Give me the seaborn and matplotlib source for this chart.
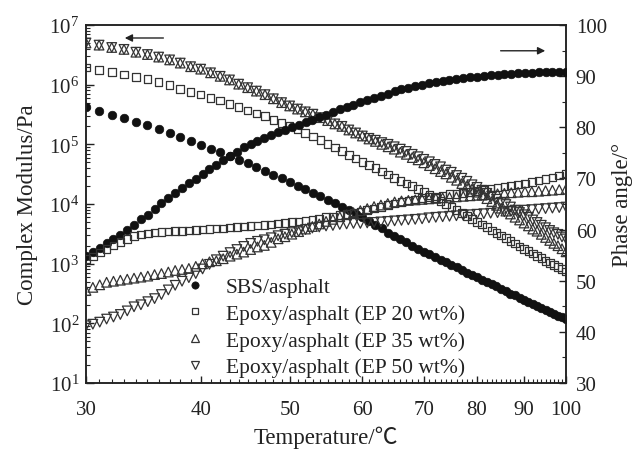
import numpy as np
import pandas as pd
import matplotlib
matplotlib.use("Agg")
import matplotlib.pyplot as plt
import seaborn as sns
from matplotlib.lines import Line2D
from matplotlib.ticker import (FixedLocator, FixedFormatter, NullFormatter,
                               LogLocator, LogFormatterMathtext, MultipleLocator)

# Temperatures of the modulus readings, 1 deg C steps from 30 to 100
temperature = list(range(30, 101))

# Temperatures of the phase-angle readings (deg C)
phase_temperature = [
    30.00, 30.52, 31.05, 31.59, 32.14, 32.70, 33.27, 33.84, 34.43, 35.03,
    35.63, 36.25, 36.88, 37.52, 38.17, 38.83, 39.51, 40.19, 40.89, 41.60,
    42.32, 43.06, 43.80, 44.56, 45.34, 46.12, 46.92, 47.74, 48.57, 49.41,
    50.27, 51.14, 52.03, 52.93, 53.85, 54.78, 55.73, 56.70, 57.68, 58.68,
    59.70, 60.74, 61.79, 62.86, 63.95, 65.06, 66.19, 67.34, 68.51, 69.70,
    70.91, 72.14, 73.39, 74.66, 75.96, 77.28, 78.62, 79.98, 81.37, 82.78,
    84.22, 85.68, 87.17, 88.68, 90.22, 91.78, 93.38, 95.00, 96.65, 98.32, 100.00]

# Complex modulus (Pa)
sbs_modulus = [
    4.17e5, 3.63e5, 3.16e5, 2.75e5, 2.40e5, 2.09e5, 1.78e5, 1.55e5, 1.32e5, 1.15e5,
    9.8e4, 8.5e4, 7.4e4, 6.3e4, 5.5e4, 4.8e4, 4.2e4, 3.6e4, 3.1e4, 2.7e4,
    2.3e4, 2.0e4, 1.78e4, 1.55e4, 1.35e4, 1.17e4, 1.02e4, 8.9e3, 7.9e3, 6.9e3,
    6.0e3, 5.2e3, 4.5e3, 3.9e3, 3.3e3, 2.9e3, 2.6e3, 2.3e3, 2.0e3, 1.78e3,
    1.58e3, 1.45e3, 1.29e3, 1.17e3, 1.05e3, 955, 871, 794, 708, 646,
    589, 537, 490, 457, 417, 380, 347, 316, 295, 269,
    245, 229, 209, 195, 178, 166, 155, 145, 135, 126, 117]
ep20_modulus = [
    1.95e6, 1.78e6, 1.62e6, 1.48e6, 1.35e6, 1.23e6, 1.10e6, 9.8e5, 8.5e5, 7.6e5,
    6.8e5, 6.0e5, 5.4e5, 4.7e5, 4.2e5, 3.7e5, 3.3e5, 2.95e5, 2.57e5, 2.29e5,
    2.04e5, 1.78e5, 1.55e5, 1.35e5, 1.17e5, 1.02e5, 8.9e4, 7.8e4, 6.6e4, 5.8e4,
    5.0e4, 4.5e4, 4.0e4, 3.5e4, 3.1e4, 2.75e4, 2.45e4, 2.19e4, 2.0e4, 1.78e4,
    1.58e4, 1.41e4, 1.26e4, 1.12e4, 1.0e4, 8.9e3, 7.9e3, 7.1e3, 6.3e3, 5.6e3,
    5.0e3, 4.5e3, 4.1e3, 3.6e3, 3.3e3, 2.95e3, 2.7e3, 2.4e3, 2.19e3, 1.95e3,
    1.78e3, 1.62e3, 1.48e3, 1.35e3, 1.23e3, 1.12e3, 1.02e3, 955, 871, 813, 741]
ep35_modulus = [
    5.0e6, 4.6e6, 4.2e6, 3.9e6, 3.5e6, 3.2e6, 2.9e6, 2.6e6, 2.3e6, 2.0e6,
    1.82e6, 1.58e6, 1.38e6, 1.20e6, 1.02e6, 8.9e5, 7.8e5, 6.8e5, 5.8e5, 5.0e5,
    4.4e5, 3.9e5, 3.5e5, 3.2e5, 2.8e5, 2.5e5, 2.2e5, 2.0e5, 1.74e5, 1.55e5,
    1.38e5, 1.23e5, 1.12e5, 1.0e5, 9.1e4, 8.3e4, 7.4e4, 6.8e4, 6.0e4, 5.5e4,
    4.9e4, 4.4e4, 3.9e4, 3.5e4, 3.2e4, 2.8e4, 2.5e4, 2.2e4, 2.0e4, 1.78e4,
    1.58e4, 1.41e4, 1.23e4, 1.10e4, 9.5e3, 8.5e3, 7.6e3, 6.8e3, 6.0e3, 5.4e3,
    4.8e3, 4.3e3, 3.8e3, 3.5e3, 3.1e3, 2.75e3, 2.45e3, 2.19e3, 2.0e3, 1.78e3, 1.58e3]
ep50_modulus = [
    5.0e6, 4.6e6, 4.2e6, 3.9e6, 3.5e6, 3.2e6, 2.9e6, 2.6e6, 2.3e6, 2.0e6,
    1.82e6, 1.58e6, 1.38e6, 1.20e6, 1.02e6, 8.9e5, 7.8e5, 6.8e5, 5.8e5, 5.0e5,
    4.4e5, 3.9e5, 3.5e5, 3.2e5, 2.8e5, 2.5e5, 2.2e5, 2.0e5, 1.74e5, 1.55e5,
    1.38e5, 1.26e5, 1.17e5, 1.07e5, 1.0e5, 9.1e4, 8.3e4, 7.6e4, 6.8e4, 6.2e4,
    5.6e4, 5.1e4, 4.6e4, 4.2e4, 3.7e4, 3.4e4, 3.0e4, 2.7e4, 2.4e4, 2.1e4,
    1.9e4, 1.7e4, 1.51e4, 1.35e4, 1.2e4, 1.07e4, 9.8e3, 8.9e3, 7.9e3, 7.2e3,
    6.6e3, 6.0e3, 5.4e3, 4.9e3, 4.4e3, 4.0e3, 3.6e3, 3.3e3, 3.1e3, 2.8e3, 2.6e3]

# Phase angle (deg)
sbs_phase = [
    54.8, 55.7, 56.4, 57.3, 58.1, 58.9, 60.0, 60.9, 62.1, 62.9,
    64.1, 65.1, 66.2, 67.2, 68.2, 69.1, 69.9, 70.9, 71.8, 72.7,
    73.6, 74.3, 75.2, 76.1, 76.8, 77.4, 78.0, 78.5, 79.0, 79.5,
    80.0, 80.5, 81.0, 81.5, 82.0, 82.5, 83.0, 83.5, 83.9, 84.4,
    84.9, 85.3, 85.7, 86.1, 86.6, 87.0, 87.4, 87.7, 88.0, 88.3,
    88.6, 88.8, 89.1, 89.3, 89.4, 89.6, 89.8, 89.9, 90.0, 90.2,
    90.3, 90.5, 90.5, 90.6, 90.7, 90.7, 90.8, 90.8, 90.8, 90.8, 90.8]
ep20_phase = [
    54.2, 54.7, 55.5, 56.2, 56.9, 57.6, 58.2, 58.7, 59.0, 59.2,
    59.4, 59.5, 59.6, 59.7, 59.7, 59.8, 59.9, 60.0, 60.1, 60.2,
    60.2, 60.4, 60.5, 60.6, 60.7, 60.8, 60.9, 61.0, 61.2, 61.3,
    61.5, 61.6, 61.8, 62.0, 62.2, 62.4, 62.5, 62.8, 63.0, 63.3,
    63.5, 63.8, 64.1, 64.4, 64.8, 65.1, 65.4, 65.7, 65.9, 66.2,
    66.4, 66.5, 66.7, 66.9, 67.0, 67.2, 67.4, 67.6, 67.8, 68.0,
    68.2, 68.4, 68.6, 68.8, 69.0, 69.3, 69.6, 69.9, 70.2, 70.6, 71.0]
ep35_phase = [
    48.1, 48.7, 49.2, 49.7, 49.9, 50.1, 50.3, 50.5, 50.7, 50.9,
    51.2, 51.4, 51.7, 52.0, 52.2, 52.4, 52.8, 53.3, 53.7, 53.9,
    54.3, 54.8, 55.2, 55.6, 56.1, 56.6, 56.9, 57.5, 58.2, 58.6,
    59.1, 59.6, 60.1, 60.6, 61.1, 61.6, 62.0, 62.5, 62.9, 63.3,
    63.7, 64.1, 64.5, 64.8, 65.1, 65.4, 65.6, 65.7, 65.8, 65.9,
    66.0, 66.1, 66.2, 66.3, 66.4, 66.5, 66.6, 66.7, 66.8, 66.9,
    67.0, 67.1, 67.2, 67.3, 67.4, 67.4, 67.5, 67.6, 67.7, 67.8, 67.9]
ep50_phase = [
    41.2, 41.5, 41.9, 42.5, 42.9, 43.4, 44.1, 44.9, 45.3, 45.9,
    46.5, 47.3, 48.2, 49.1, 49.9, 50.6, 51.4, 52.3, 53.2, 54.1,
    54.8, 55.5, 56.1, 56.7, 57.3, 57.7, 58.0, 58.4, 58.8, 59.1,
    59.4, 59.6, 60.0, 60.3, 60.5, 60.7, 60.8, 61.0, 61.1, 61.2,
    61.2, 61.3, 61.4, 61.5, 61.6, 61.7, 61.8, 61.9, 62.0, 62.1,
    62.3, 62.4, 62.5, 62.6, 62.7, 62.8, 62.9, 63.0, 63.1, 63.2,
    63.3, 63.5, 63.6, 63.7, 63.8, 63.9, 64.0, 64.1, 64.2, 64.3, 64.4]

labels = ["SBS/asphalt", "Epoxy/asphalt (EP 20 wt%)",
          "Epoxy/asphalt (EP 35 wt%)", "Epoxy/asphalt (EP 50 wt%)"]
x_ticks = [30, 40, 50, 60, 70, 80, 90, 100]

sns.set_theme(style="ticks")
plt.rcParams["font.family"] = ["Liberation Serif", "Noto Sans CJK SC"]
plt.rcParams["mathtext.fontset"] = "custom"
plt.rcParams["mathtext.rm"] = "Liberation Serif"
plt.rcParams["mathtext.it"] = "Liberation Serif:italic"
plt.rcParams["axes.linewidth"] = 1.1
plt.rcParams["axes.edgecolor"] = "#222222"

fig = plt.figure(figsize=(6.35, 4.52), dpi=100)
ax = fig.add_axes([86 / 635, 1 - 384 / 452, 480 / 635, 358 / 452])
ax2 = ax.twinx()

ink = "#222222"
styles = [
    dict(marker="o", s=38, color="#111111", edgecolor="#111111", linewidth=0.5),
    dict(marker="s", s=30, facecolor="none", edgecolor="#333333", linewidth=0.9),
    dict(marker="^", s=48, facecolor="none", edgecolor="#333333", linewidth=0.9),
    dict(marker="v", s=48, facecolor="none", edgecolor="#333333", linewidth=0.9),
]

moduli = [sbs_modulus, ep20_modulus, ep35_modulus, ep50_modulus]
phases = [sbs_phase, ep20_phase, ep35_phase, ep50_phase]

for mod, st in zip(moduli, styles):
    sns.scatterplot(x=temperature, y=mod, ax=ax, legend=False, zorder=3, **st)
for ph, st in zip(phases, styles):
    sns.scatterplot(x=phase_temperature, y=ph, ax=ax2, legend=False, zorder=3, **st)

# Axes scales and ticks
ax.set_xscale("log")
ax.set_yscale("log")
ax.set_xlim(30, 100)
ax.set_ylim(10, 1e7)
ax.xaxis.set_major_locator(FixedLocator(x_ticks))
ax.xaxis.set_major_formatter(FixedFormatter([str(t) for t in x_ticks]))
ax.xaxis.set_minor_locator(FixedLocator([t for t in range(30, 101) if t % 10]))
ax.xaxis.set_minor_formatter(NullFormatter())
ax.yaxis.set_major_locator(LogLocator(base=10, numticks=10))
ax.yaxis.set_major_formatter(LogFormatterMathtext())
ax.yaxis.set_minor_locator(LogLocator(base=10, subs=np.arange(2, 10), numticks=10))
ax.yaxis.set_minor_formatter(NullFormatter())

ax2.set_ylim(30, 100)
ax2.yaxis.set_major_locator(MultipleLocator(10))
ax2.yaxis.set_minor_locator(MultipleLocator(5))

fs_tick = 15
ax.tick_params(axis="x", which="major", direction="in", length=5, width=1,
               labelsize=fs_tick, pad=12, colors=ink, top=False)
ax.tick_params(axis="x", which="minor", direction="in", length=3, width=0.8, top=False)
ax.tick_params(axis="y", which="major", direction="in", length=5.5, width=1,
               labelsize=fs_tick, pad=5, colors=ink, right=False)
ax.tick_params(axis="y", which="minor", direction="in", length=3, width=0.8, right=False)
ax2.tick_params(axis="y", which="major", direction="in", length=5, width=1,
                labelsize=fs_tick, pad=7, colors=ink, left=False)
ax2.tick_params(axis="y", which="minor", direction="in", length=3, width=0.8, left=False)

ax.set_xlabel("Temperature/\u2103", fontsize=16.5, color=ink, labelpad=5)
ax.set_ylabel("Complex Modulus/Pa", fontsize=16.5, color=ink, labelpad=8)
ax2.set_ylabel("Phase angle/\u00b0", fontsize=16.5, color=ink, labelpad=4)

# Direction arrows pointing at each axis
arrow = dict(arrowstyle="-|>", color=ink, lw=1.0, mutation_scale=11)
ax.annotate("", xy=(0.075, 0.9637), xytext=(0.167, 0.9637),
            xycoords="axes fraction", arrowprops=arrow)
ax.annotate("", xy=(0.9625, 0.928), xytext=(0.858, 0.928),
            xycoords="axes fraction", arrowprops=arrow)

handles = []
for st, lab in zip(styles, labels):
    fc = st.get("facecolor", st.get("color"))
    handles.append(Line2D([], [], linestyle="none", marker=st["marker"],
                          markersize=np.sqrt(st["s"]) * 0.85,
                          markerfacecolor=fc, markeredgecolor=st["edgecolor"],
                          markeredgewidth=st["linewidth"], label=lab))
leg = ax2.legend(handles=handles, loc="upper left",
                 bbox_to_anchor=(184 / 635, 1 - 278 / 452),
                 bbox_transform=fig.transFigure, frameon=False,
                 fontsize=15.5, handlelength=1.0, handletextpad=0.95,
                 labelspacing=0.31, borderpad=0, borderaxespad=0)
for t in leg.get_texts():
    t.set_color(ink)

fig.savefig("out.png", dpi=100)
